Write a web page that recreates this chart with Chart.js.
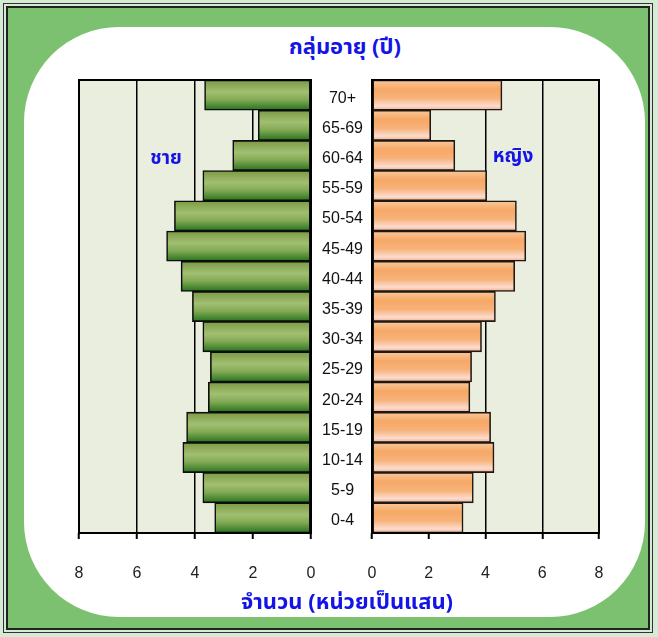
<!DOCTYPE html>
<html><head><meta charset="utf-8">
<script src="https://cdn.jsdelivr.net/npm/chart.js@4.4.1/dist/chart.umd.min.js"></script>
<style>
html,body{margin:0;padding:0;width:658px;height:637px;overflow:hidden;background:#d6ebd6;position:relative;}
#f1{position:absolute;left:3px;top:3px;width:650px;height:630px;border:1px solid #333;box-sizing:border-box;}
#f2{position:absolute;left:6px;top:6px;width:644px;height:624px;border:2px solid #222;background:#7cc16f;box-sizing:border-box;}
#panel{position:absolute;left:24px;top:27px;width:621px;height:590px;border-radius:95px;background:#fff;}
.t{position:absolute;color:#1414e6;font-family:Tahoma,"Noto Sans Thai",Loma,"Garuda",sans-serif;font-weight:bold;white-space:nowrap;transform:translate(-50%,-50%);line-height:1;}
canvas{position:absolute;}
#cl{left:60px;top:70px;}
#cr{left:313px;top:70px;}
</style>
</head><body>
<div id="f1"></div><div id="f2"></div><div id="panel"></div>
<canvas id="cl" width="262" height="530"></canvas>
<canvas id="cr" width="297" height="530"></canvas>
<div class="t" style="left:345px;top:48px;font-size:22px;">กลุ่มอายุ (ปี)</div>
<div class="t" style="left:166px;top:158px;font-size:19px;">ชาย</div>
<div class="t" style="left:513px;top:156px;font-size:19px;">หญิง</div>
<div class="t" style="left:347px;top:603px;font-size:22px;">จำนวน (หน่วยเป็นแสน)</div>
<script>
const categories = ['0-4','5-9','10-14','15-19','20-24','25-29','30-34','35-39','40-44','45-49','50-54','55-59','60-64','65-69','70+'];
const maleValues = [3.32, 3.73, 4.42, 4.29, 3.54, 3.47, 3.73, 4.09, 4.48, 4.98, 4.71, 3.73, 2.70, 1.82, 3.67];
const femaleValues = [3.21, 3.57, 4.30, 4.18, 3.45, 3.51, 3.86, 4.35, 5.03, 5.42, 5.09, 4.04, 2.92, 2.07, 4.58];
const axisTicks = [0, 2, 4, 6, 8];

const greenStops = [[0,'#7b9a43'],[0.4,'#a1bf71'],[0.65,'#83aa55'],[1,'#26721d']];
const orangeStops = [[0,'#f9c99c'],[0.3,'#f6a866'],[0.6,'#f7b27a'],[0.86,'#fcdccf'],[1,'#f2ad88']];

function barGradient(stops) {
  return (c) => {
    const chart = c.chart, a = chart.chartArea;
    if (!a || c.type !== 'data' || !chart.scales.y) return stops[1][1];
    const y = chart.scales.y.getPixelForValue(c.dataIndex);
    const h = a.height / categories.length / 2;
    const g = chart.ctx.createLinearGradient(0, y - h, 0, y + h);
    stops.forEach(([o, col]) => g.addColorStop(o, col));
    return g;
  };
}

const framePlugin = {
  id: 'frame',
  beforeDraw(chart) {
    const {ctx, chartArea: a} = chart;
    ctx.save(); ctx.fillStyle = '#eaeedf';
    ctx.fillRect(a.left, a.top, a.width, a.height); ctx.restore();
  },
  afterDraw(chart) {
    const {ctx, chartArea: a} = chart;
    ctx.save(); ctx.strokeStyle = '#000'; ctx.lineWidth = 2;
    ctx.strokeRect(a.left, a.top, a.width, a.height); ctx.restore();
  }
};

function xScale(reverse) {
  return {
    type: 'linear', min: 0, max: 8, reverse: reverse,
    afterBuildTicks: s => { s.ticks = axisTicks.map(v => ({value: v})); },
    afterFit: s => { s.height = 67; s.paddingLeft = 0; s.paddingRight = 0; },
    grid: {color: '#000', lineWidth: 1.5, tickLength: 6, drawTicks: true, tickColor: '#000', tickWidth: 2},
    border: {display: false},
    ticks: {padding: 25, color: '#222', font: {family: '"Liberation Sans", Arial, sans-serif', size: 16}, maxRotation: 0}
  };
}

const common = {
  responsive: false, animation: false, indexAxis: 'y',
  plugins: {legend: {display: false}, tooltip: {enabled: false}, title: {display: false}},
};

new Chart(document.getElementById('cl'), {
  type: 'bar',
  data: {labels: categories, datasets: [{data: maleValues, backgroundColor: barGradient(greenStops),
    borderColor: '#0d0d0d', borderWidth: 1.6, borderSkipped: false, barPercentage: 1, categoryPercentage: 1}]},
  options: Object.assign({}, common, {
    layout: {padding: {left: 19, right: 11, top: 10, bottom: 0}},
    scales: {
      x: xScale(true),
      y: {type: 'category', reverse: true, display: false, grid: {display: false}}
    }
  }),
  plugins: [framePlugin]
});

new Chart(document.getElementById('cr'), {
  type: 'bar',
  data: {labels: categories, datasets: [{data: femaleValues, backgroundColor: barGradient(orangeStops),
    borderColor: '#1e1712', borderWidth: 1.6, borderSkipped: false, barPercentage: 1, categoryPercentage: 1}]},
  options: Object.assign({}, common, {
    layout: {padding: {left: 0, right: 11, top: 10, bottom: 0}},
    scales: {
      x: xScale(false),
      y: {type: 'category', reverse: true, position: 'left',
        afterFit: s => { s.width = 59; s.paddingTop = 0; s.paddingBottom = 0; },
        grid: {display: false, drawTicks: false}, border: {display: false},
        ticks: {crossAlign: 'center', padding: 9, labelOffset: 3, color: '#111', font: {family: '"Liberation Sans", Arial, sans-serif', size: 16}}
      }
    }
  }),
  plugins: [framePlugin]
});
</script>
</body></html>
